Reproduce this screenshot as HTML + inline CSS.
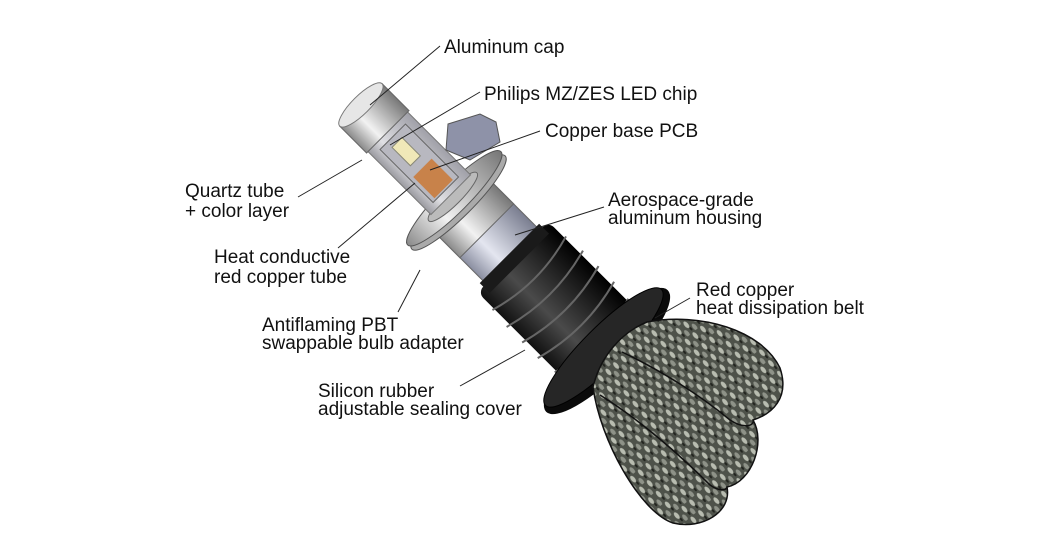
<!DOCTYPE html>
<html><head><meta charset="utf-8"><style>
html,body{margin:0;padding:0;background:#fff;}
svg{display:block;}
text{font-family:"Liberation Sans",Arial,sans-serif;font-size:19px;fill:#111;}
</style></head><body>
<svg width="1047" height="559" viewBox="0 0 1047 559">
<defs>
<linearGradient id="al" x1="0" y1="0" x2="1" y2="0">
<stop offset="0" stop-color="#8a8a8a"/><stop offset="0.35" stop-color="#f2f2f2"/><stop offset="1" stop-color="#777"/></linearGradient>
<linearGradient id="hs" x1="0" y1="0" x2="1" y2="0">
<stop offset="0" stop-color="#8a8ea0"/><stop offset="0.35" stop-color="#e4e6f0"/><stop offset="1" stop-color="#7a7e90"/></linearGradient>
<linearGradient id="qt" x1="0" y1="0" x2="1" y2="0">
<stop offset="0" stop-color="#9a9aa0"/><stop offset="0.3" stop-color="#e0e0e4"/><stop offset="1" stop-color="#a0a0a8"/></linearGradient>
<linearGradient id="blk" x1="0" y1="0" x2="1" y2="0">
<stop offset="0" stop-color="#111"/><stop offset="0.35" stop-color="#4a4a4a"/><stop offset="1" stop-color="#000"/></linearGradient>
<pattern id="braid" width="14" height="10" patternUnits="userSpaceOnUse" patternTransform="rotate(50)">
<rect width="14" height="10" fill="#4e524a"/>
<ellipse cx="4" cy="3" rx="4" ry="2" fill="#b8bcb0"/>
<ellipse cx="11" cy="8" rx="4" ry="2" fill="#8e9288"/>
<ellipse cx="10" cy="2" rx="2" ry="1" fill="#22241f"/>
</pattern>
</defs>

<g transform="translate(368,112) rotate(-45)">
<!-- bellows -->
<rect x="-50" y="205" width="100" height="130" rx="8" fill="url(#blk)"/>
<g stroke="#666" stroke-width="2" fill="none">
<path d="M-52,228 Q0,243 52,228"/><path d="M-54,250 Q0,265 54,250"/><path d="M-54,272 Q0,287 54,272"/><path d="M-54,294 Q0,309 54,294"/><path d="M-52,316 Q0,331 52,316"/>
</g>
<ellipse cx="0" cy="338" rx="86" ry="24" fill="#0a0a0a"/>
<ellipse cx="0" cy="333" rx="82" ry="20" fill="#262626" stroke="#000"/>
<!-- housing -->
<rect x="-38" y="130" width="76" height="80" fill="url(#hs)" stroke="#666"/>
<rect x="-38" y="130" width="76" height="38" fill="url(#al)" stroke="#666"/>
<rect x="-42" y="200" width="84" height="14" fill="#1a1a1a"/>
<!-- flange -->
<ellipse cx="0" cy="128" rx="66" ry="14" fill="#aaa" stroke="#555"/>
<ellipse cx="0" cy="122" rx="66" ry="14" fill="url(#al)" stroke="#555"/>
<ellipse cx="0" cy="120" rx="34" ry="8" fill="#bbb" stroke="#666"/>
<!-- quartz tube -->
<rect x="-28" y="25" width="56" height="92" fill="url(#qt)" stroke="#777"/>
<rect x="-18" y="35" width="36" height="75" fill="#b8b8c0" stroke="#666"/>
<rect x="-8" y="42" width="14" height="26" fill="#f0e8b8" stroke="#887"/>
<rect x="-14" y="78" width="26" height="30" fill="#c8824a"/>
<!-- cap -->
<rect x="-30" y="-10" width="60" height="38" fill="url(#al)" stroke="#666"/>
<ellipse cx="0" cy="-10" rx="30" ry="9" fill="#e6e6e6" stroke="#777"/>
</g>

<!-- braided belt -->
<path d="M647,322 C700,312 762,330 780,368 C790,398 772,414 753,420 C766,442 752,482 727,487 C732,512 702,530 673,523 C640,512 600,440 593,387 C600,358 620,333 647,322 Z" fill="url(#braid)" stroke="#111" stroke-width="1.5"/>
<g fill="none" stroke="#111" stroke-width="1.5">
<path d="M622,352 C660,370 700,395 730,420 C745,430 755,425 753,420"/>
<path d="M600,395 C640,420 680,455 710,485 C720,492 727,490 727,487"/>
</g>

<!-- PCB piece -->
<path d="M448,124 L480,114 L496,122 L500,142 L470,160 L446,150 Z" fill="#8e92a8" stroke="#555"/>
<!-- leader lines -->
<g stroke="#222" stroke-width="1" fill="none">
<line x1="440" y1="46" x2="370" y2="105"/>
<line x1="480" y1="92" x2="390" y2="145"/>
<line x1="540" y1="131" x2="430" y2="170"/>
<line x1="298" y1="197" x2="362" y2="160"/>
<line x1="338" y1="248" x2="415" y2="183"/>
<line x1="604" y1="207" x2="515" y2="235"/>
<line x1="690" y1="298" x2="655" y2="318"/>
<line x1="398" y1="312" x2="420" y2="270"/>
<line x1="460" y1="386" x2="525" y2="350"/>
</g>
<text x="444" y="53">Aluminum cap</text>
<text x="484" y="100">Philips MZ/ZES LED chip</text>
<text x="545" y="137">Copper base PCB</text>
<text x="185" y="197">Quartz tube</text>
<text x="185" y="217">+ color layer</text>
<text x="214" y="263">Heat conductive</text>
<text x="214" y="283">red copper tube</text>
<text x="608" y="206">Aerospace-grade</text>
<text x="608" y="224">aluminum housing</text>
<text x="696" y="296">Red copper</text>
<text x="696" y="314">heat dissipation belt</text>
<text x="262" y="331">Antiflaming PBT</text>
<text x="262" y="349">swappable bulb adapter</text>
<text x="318" y="397">Silicon rubber</text>
<text x="318" y="415">adjustable sealing cover</text>
</svg>
</body></html>
